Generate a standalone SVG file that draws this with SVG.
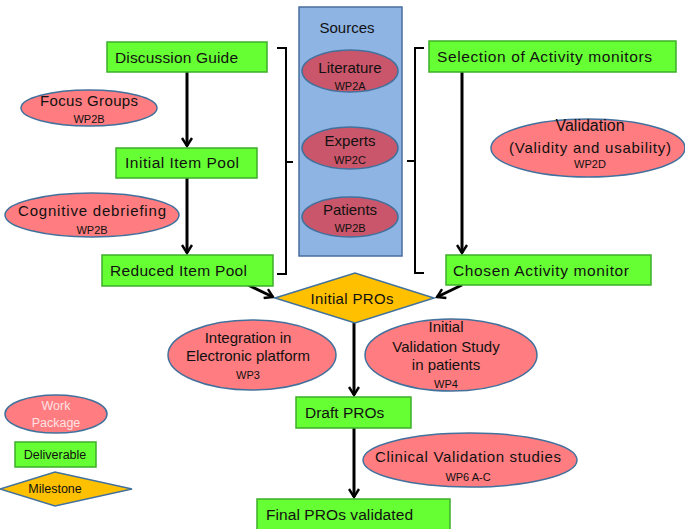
<svg xmlns="http://www.w3.org/2000/svg" width="685" height="529" viewBox="0 0 685 529">
<defs>
<marker id="ah" viewBox="0 0 12 12" refX="10" refY="6" markerWidth="12" markerHeight="12" markerUnits="userSpaceOnUse" orient="auto">
<path d="M2,1 L10,6 L2,11" fill="none" stroke="#000" stroke-width="2.4"/>
</marker>
<style>
text{font-family:"Liberation Sans",Arial,sans-serif;fill:#111;}
.lg{font-size:15.5px;}
.md{font-size:15px;text-anchor:middle;}
.sm{font-size:11px;text-anchor:middle;}
.box{fill:#66ff33;stroke:#3fae2a;stroke-width:1.5;}
.wp{fill:#ff7c80;stroke:#41719c;stroke-width:1.5;}
.src{fill:#c9566a;stroke:#41719c;stroke-width:1.5;}
.ms{fill:#ffc000;stroke:#41719c;stroke-width:1.5;}
.con{stroke:#000;stroke-width:3;fill:none;}
.br{stroke:#000;stroke-width:2;fill:none;}
</style>
</defs>
<rect width="685" height="529" fill="#fff"/>

<g id="sources">
<rect x="299" y="7" width="103" height="249" fill="#8eb4e3" stroke="#4a6e9e" stroke-width="1.5"/>
<text x="347" y="33" class="md">Sources</text>
</g>
<g id="literature"><ellipse cx="350" cy="71" rx="48" ry="21" class="src"/><text x="350" y="73" class="md">Literature</text><text x="350" y="90" class="sm">WP2A</text></g>
<g id="experts"><ellipse cx="350" cy="148" rx="48" ry="21" class="src"/><text x="350" y="146" class="md">Experts</text><text x="350" y="164" class="sm">WP2C</text></g>
<g id="patients"><ellipse cx="350" cy="217" rx="48" ry="20" class="src"/><text x="350" y="215" class="md">Patients</text><text x="350" y="232" class="sm">WP2B</text></g>

<g id="connectors">
<line x1="187" y1="72" x2="187" y2="146" class="con" marker-end="url(#ah)"/>
<line x1="187" y1="178" x2="187" y2="253" class="con" marker-end="url(#ah)"/>
<line x1="462" y1="72" x2="462" y2="253" class="con" marker-end="url(#ah)"/>
<line x1="248" y1="285" x2="273" y2="297" class="con" marker-end="url(#ah)"/>
<line x1="462" y1="285" x2="437" y2="297" class="con" marker-end="url(#ah)"/>
<line x1="354" y1="323" x2="354" y2="395" class="con" marker-end="url(#ah)"/>
<line x1="354" y1="428" x2="354" y2="497" class="con" marker-end="url(#ah)"/>
<path d="M277,48 H286 V274 H277 M286,162 H293" class="br"/>
<path d="M424,48 H415 V273 H424 M415,161 H407" class="br"/>
</g>

<g id="discussion-guide"><rect x="107" y="42" width="160" height="30" class="box"/><text x="115" y="63" class="lg" textLength="123">Discussion Guide</text></g>
<g id="focus-groups"><ellipse cx="89" cy="108" rx="68" ry="18" class="wp"/><text x="89" y="106" class="md" textLength="98">Focus Groups</text><text x="89" y="123" class="sm">WP2B</text></g>
<g id="initial-item-pool"><rect x="116" y="148" width="141" height="30" class="box"/><text x="125" y="168" class="lg" textLength="114">Initial Item Pool</text></g>
<g id="cognitive-debriefing"><ellipse cx="92" cy="215" rx="87" ry="22" class="wp"/><text x="92" y="216" class="md" textLength="148">Cognitive debriefing</text><text x="92" y="234" class="sm">WP2B</text></g>
<g id="reduced-item-pool"><rect x="102" y="255" width="171" height="31" class="box"/><text x="110" y="276" class="lg" textLength="137">Reduced Item Pool</text></g>

<g id="selection"><rect x="429" y="41" width="247" height="31" class="box"/><text x="437" y="62" class="lg" textLength="215">Selection of Activity monitors</text></g>
<g id="validation"><ellipse cx="588" cy="148" rx="97" ry="29" class="wp"/><text x="590" y="131" class="md" style="font-size:16px">Validation</text><text x="590" y="153" class="md" textLength="162">(Validity and usability)</text><text x="590" y="168" class="sm">WP2D</text></g>
<g id="chosen"><rect x="446" y="255" width="205" height="30" class="box"/><text x="453" y="276" class="lg" textLength="176">Chosen Activity monitor</text></g>

<g id="initial-pros"><polygon points="275,298 355,273 434,298 355,323" class="ms"/><text x="352" y="304" class="md" textLength="83">Initial PROs</text></g>
<g id="integration"><ellipse cx="252" cy="355" rx="84" ry="35" class="wp"/><text x="248" y="343" class="md">Integration in</text><text x="248" y="361" class="md">Electronic platform</text><text x="248" y="379" class="sm">WP3</text></g>
<g id="initial-validation"><ellipse cx="451" cy="355" rx="86" ry="36" class="wp"/><text x="446" y="332" class="md">Initial</text><text x="446" y="352" class="md">Validation Study</text><text x="446" y="370" class="md">in patients</text><text x="446" y="388" class="sm">WP4</text></g>
<g id="draft-pros"><rect x="296" y="397" width="115" height="31" class="box"/><text x="305" y="418" class="lg">Draft PROs</text></g>
<g id="clinical"><ellipse cx="470" cy="460" rx="107" ry="27" class="wp"/><text x="468" y="462" class="md" textLength="186">Clinical Validation studies</text><text x="468" y="481" class="sm">WP6 A-C</text></g>
<g id="final-pros"><rect x="257" y="499" width="193" height="35" class="box"/><text x="266" y="520" class="lg" textLength="147">Final PROs validated</text></g>

<g id="legend-wp"><ellipse cx="56" cy="414" rx="51" ry="19" class="wp"/><text x="56" y="410" class="sm" style="fill:#fde3e3;font-size:12.5px">Work</text><text x="56" y="427" class="sm" style="fill:#fde3e3;font-size:12.5px">Package</text></g>
<g id="legend-deliverable"><rect x="15" y="442" width="81" height="25" class="box"/><text x="55" y="459" class="sm" style="font-size:12.5px">Deliverable</text></g>
<g id="legend-milestone"><polygon points="0,489 55,472 132,489 55,506" class="ms"/><text x="55" y="493" class="sm" style="font-size:12.5px">Milestone</text></g>
</svg>
